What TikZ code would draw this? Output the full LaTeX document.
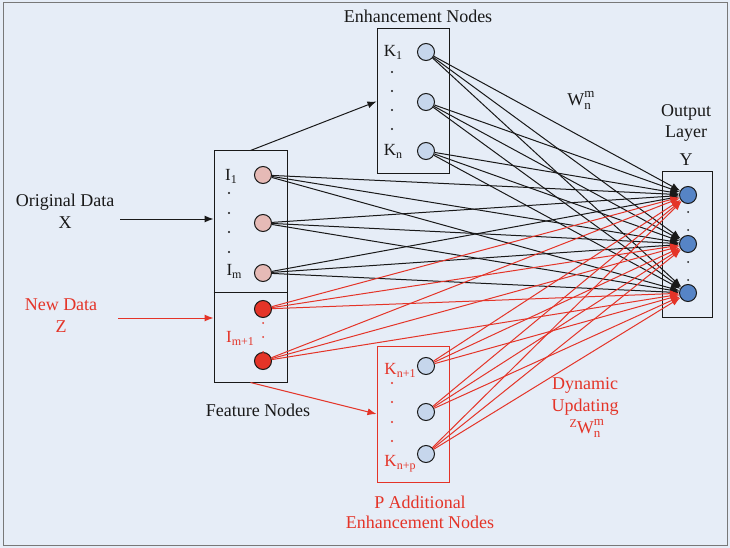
\documentclass[tikz,border=0pt]{standalone}
\usepackage{fontspec}
\setmainfont{Liberation Serif}
\usetikzlibrary{arrows.meta}
\definecolor{bg}{RGB}{230,237,247}
\definecolor{myred}{RGB}{228,52,40}
\definecolor{pinkf}{RGB}{230,186,182}
\definecolor{lblue}{RGB}{198,214,236}
\definecolor{dblue}{RGB}{86,132,198}
\definecolor{framec}{RGB}{120,120,120}
\definecolor{ink}{RGB}{25,25,25}
\newcommand{\sbs}[1]{\raisebox{-3pt}{\fontsize{12}{12}\selectfont #1}}
\newcommand{\wsub}[1]{\raisebox{-4pt}{\fontsize{13}{13}\selectfont #1}}
\newcommand{\wsup}[1]{\raisebox{8pt}{\fontsize{13}{13}\selectfont #1}}
\newcommand{\Wnm}{W\rlap{\wsup{m}}\wsub{n}}
\begin{document}
\begin{tikzpicture}[x=1pt,y=-1pt,
  font=\fontsize{18}{22}\selectfont,
  boxnode/.style={draw=ink, line width=1pt, inner sep=0pt},
  neuron/.style={circle, draw=ink, line width=1pt, minimum size=17pt, inner sep=0pt},
  lbl/.style={font=\fontsize{17}{18}\selectfont, text=ink},
  conn/.style={draw=ink, line width=1pt, -{Latex[length=9pt,width=7pt]}},
  rconn/.style={draw=myred, line width=1pt, -{Latex[length=9pt,width=7pt]}},
  dot/.style={fill=ink},
  rdot/.style={fill=myred}]
\useasboundingbox (0,0) rectangle (730,548);
\fill[bg] (0,0) rectangle (730,548);
\draw[framec, line width=1pt] (3,3) rectangle (727,545);

% boxes
\node[boxnode, minimum width=73pt, minimum height=231pt] (fbox) at (250.5,266.5) {};
\node[boxnode, minimum width=72pt, minimum height=145pt] (ebox) at (413,101.5) {};
\node[boxnode, draw=myred, minimum width=72pt, minimum height=136pt] (abox) at (413,414) {};
\node[boxnode, minimum width=50pt, minimum height=145pt] (obox) at (687,244.5) {};
\draw[ink, line width=1pt] (fbox.west |- 0,292) -- (fbox.east |- 0,292);

% neurons
\node[neuron, fill=pinkf] (f1) at (263,175) {};
\node[neuron, fill=pinkf] (f2) at (263,223) {};
\node[neuron, fill=pinkf] (f3) at (263,273) {};
\node[neuron, fill=myred] (r1) at (263,309) {};
\node[neuron, fill=myred] (r2) at (263,361) {};
\node[neuron, fill=lblue] (e1) at (426,52) {};
\node[neuron, fill=lblue] (e2) at (426,102) {};
\node[neuron, fill=lblue] (e3) at (426,151) {};
\node[neuron, fill=lblue] (a1) at (426,366) {};
\node[neuron, fill=lblue] (a2) at (426,412) {};
\node[neuron, fill=lblue] (a3) at (426,454) {};
\node[neuron, fill=dblue] (o1) at (688,195) {};
\node[neuron, fill=dblue] (o2) at (688,244) {};
\node[neuron, fill=dblue] (o3) at (688,293) {};

% black connections
\foreach \s in {f1,f2,f3,e1,e2,e3}
  \foreach \t in {o1,o2,o3}
    \draw[conn] (\s) -- (\t);
% red connections
\foreach \s in {r1,r2,a1,a2,a3}
  \foreach \t in {o1,o2,o3}
    \draw[rconn] (\s) -- (\t);

% input arrows
\coordinate (xs) at (120,219);
\coordinate (zs) at (118,318);
\draw[conn] (xs) -- (xs -| fbox.west);
\draw[rconn] (zs) -- (zs -| fbox.west);
\draw[conn] (fbox.north) -- (ebox.west);
\draw[rconn] (fbox.south) -- (abox.west);

% dots
\foreach \y in {193,213,232,252} \fill[dot] (229,\y) circle (1.1pt);
\foreach \y in {323,337,352} \fill[rdot] (263,\y) circle (1pt);
\foreach \y in {72,91,110,129} \fill[dot] (392,\y) circle (1.1pt);
\foreach \y in {383,402,422,441} \fill[rdot] (392,\y) circle (1.1pt);
\foreach \y in {212,230,262,280} \fill[dot] (688,\y) circle (1pt);

% box labels
\node[lbl] (li1) at (231,176) {I\sbs{1}};
\node[lbl] (lim) at (234,271) {I\sbs{m}};
\node[lbl, text=myred] (lim1) at (240,338) {I\sbs{m+1}};
\node[lbl] (lk1) at (393,52) {K\sbs{1}};
\node[lbl] (lkn) at (393,151) {K\sbs{n}};
\node[lbl, text=myred] (lkn1) at (400,370) {K\sbs{n+1}};
\node[lbl, text=myred] (lknp) at (400,464) {K\sbs{n+p}};

% texts
\node[align=center, text=ink] (orig) at (65,211) {Original Data\\X};
\node[align=center, text=myred] (newd) at (61,316) {New Data\\Z};
\node[text=ink] (enht) at (418,16) {Enhancement Nodes};
\node[align=center, text=ink, font=\fontsize{18}{21}\selectfont] (outt) at (686,123) {Output\\Layer};
\node[text=ink] (yt) at (686,160) {Y};
\node[text=ink] (feat) at (258,410) {Feature Nodes};
\node[align=center, text=myred, font=\fontsize{18}{20}\selectfont] (addt) at (420,512) {P Additional\\Enhancement Nodes};
\node[text=ink] (wt) at (579,100) {\Wnm};
\node[align=center, text=myred] (dyn) at (585,408) {Dynamic\\Updating\\\raisebox{6pt}{\fontsize{12}{12}\selectfont Z}\Wnm};
\end{tikzpicture}
\end{document}
